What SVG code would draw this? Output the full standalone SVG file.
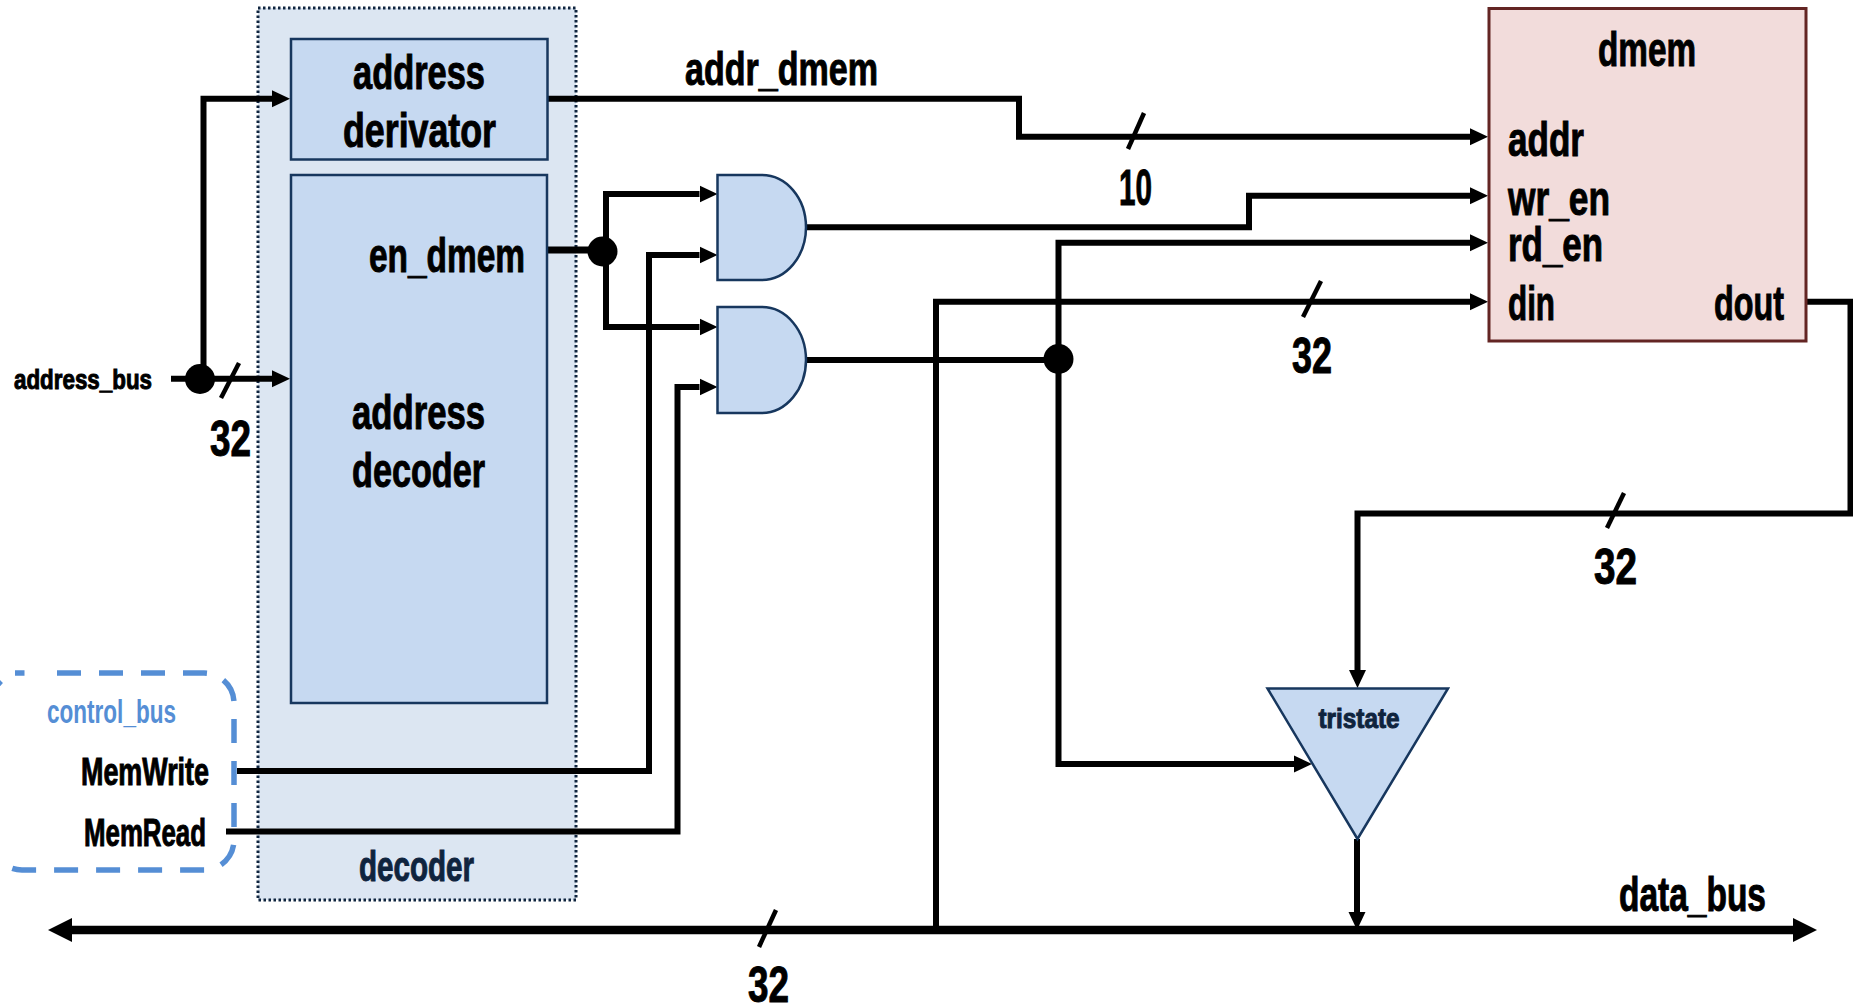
<svg xmlns="http://www.w3.org/2000/svg" width="1853" height="1006" viewBox="0 0 1853 1006">
<style>
text{font-family:"Liberation Sans Narrow","Liberation Sans",Arial,sans-serif;font-weight:700;fill:#000;stroke:#000;stroke-width:1}
.navy{fill:#0f243e;stroke:#0f243e}
.blue{fill:#558ed5;stroke:none}
.box{fill:#c6d9f1;stroke:#17375e;stroke-width:2.5}
.w{fill:none;stroke:#000;stroke-width:6;stroke-linejoin:miter}
.b{fill:none;stroke:#000;stroke-width:8.5}
.s{fill:none;stroke:#000;stroke-width:4.5}
</style>
<defs>
<marker id="a" markerUnits="userSpaceOnUse" markerWidth="18" markerHeight="18" refX="0" refY="9" orient="auto"><path d="M0 0.5L18 9L0 17.5Z" fill="#000"/></marker>
<marker id="big" markerUnits="userSpaceOnUse" markerWidth="24" markerHeight="24" refX="0" refY="12" orient="auto-start-reverse"><path d="M0 0L24 12L0 24Z" fill="#000"/></marker>
</defs>
<g id="decoder">
<rect x="258" y="8" width="318" height="892" fill="#dce6f2" stroke="#0f243e" stroke-width="3" stroke-dasharray="2.5 2.5"/>
<text class="navy" x="359" y="881" font-size="42" textLength="115" lengthAdjust="spacingAndGlyphs">decoder</text>
</g>
<g id="control_bus">
<path d="M57 673H204A30 30 0 0 1 234 703V840A30 30 0 0 1 204 870H22A30 30 0 0 1 -8 840V703A30 30 0 0 1 1 681M24.500 673H15" fill="none" stroke="#558ed5" stroke-width="5.5" stroke-dasharray="24 18"/>
<text class="blue" x="47" y="723" font-size="33" textLength="129" lengthAdjust="spacingAndGlyphs">control_bus</text>
<text x="81" y="785" font-size="38" textLength="128" lengthAdjust="spacingAndGlyphs">MemWrite</text>
<text x="84" y="846" font-size="38" textLength="122" lengthAdjust="spacingAndGlyphs">MemRead</text>
</g>
<g id="connectors">
<path class="w" d="M171 378.700H272" marker-end="url(#a)"/>
<path class="w" d="M203.500 379V98.700H272" marker-end="url(#a)"/>
<circle cx="200" cy="379" r="15"/>
<path class="s" d="M239 363L221 398"/>
<path class="w" d="M548 98.700H1019V136.700H1470" marker-end="url(#a)"/>
<path class="s" d="M1144 113L1128 149"/>
<path d="M548 250H603" fill="none" stroke="#000" stroke-width="7"/>
<path class="w" d="M606 251V194H699.500" marker-end="url(#a)"/>
<path class="w" d="M606 251V327H699.500" marker-end="url(#a)"/>
<circle cx="602.500" cy="251.500" r="15"/>
<path class="w" d="M237 771H649V255H699.500" marker-end="url(#a)"/>
<path class="w" d="M226 831.500H677.500V387H699.500" marker-end="url(#a)"/>
<path class="w" d="M806 227.300H1249V195.700H1470" marker-end="url(#a)"/>
<path class="w" d="M806 360H1059"/>
<path class="w" d="M1058.500 360V242.700H1470" marker-end="url(#a)"/>
<path class="w" d="M1058.500 360V764H1294" marker-end="url(#a)"/>
<circle cx="1058.500" cy="359" r="15"/>
<path class="w" d="M936 930V301.700H1470" marker-end="url(#a)"/>
<path class="s" d="M1321 281L1303 317"/>
<path class="w" d="M1806 301.700H1850.500V513.500H1357.500V670" marker-end="url(#a)"/>
<path class="s" d="M1624 493L1607 528"/>
<path class="w" d="M1357 839V912" marker-end="url(#a)"/>
<path class="b" d="M72 930H1793" marker-start="url(#big)" marker-end="url(#big)"/>
<path class="s" d="M776 910L759 947"/>
<text x="685" y="85" font-size="47" textLength="193" lengthAdjust="spacingAndGlyphs">addr_dmem</text>
<text x="1119" y="205" font-size="50" textLength="33" lengthAdjust="spacingAndGlyphs">10</text>
<text x="210" y="456" font-size="50" textLength="41" lengthAdjust="spacingAndGlyphs">32</text>
<text x="1292" y="373" font-size="50" textLength="40" lengthAdjust="spacingAndGlyphs">32</text>
<text x="1594" y="584" font-size="50" textLength="43" lengthAdjust="spacingAndGlyphs">32</text>
<text x="748" y="1002" font-size="50" textLength="41" lengthAdjust="spacingAndGlyphs">32</text>
<text x="14" y="389" font-size="27" textLength="138" lengthAdjust="spacingAndGlyphs">address_bus</text>
<text x="1619" y="911" font-size="48" textLength="147" lengthAdjust="spacingAndGlyphs">data_bus</text>
</g>
<g id="address_derivator">
<rect class="box" x="291" y="39" width="256.500" height="120.500" stroke="#1d2b3a"/>
<text x="353" y="89" font-size="48" textLength="132" lengthAdjust="spacingAndGlyphs">address</text>
<text x="343" y="147" font-size="48" textLength="153" lengthAdjust="spacingAndGlyphs">derivator</text>
</g>
<g id="address_decoder">
<rect class="box" x="291" y="175" width="256" height="528"/>
<text x="369" y="272" font-size="48" textLength="156" lengthAdjust="spacingAndGlyphs">en_dmem</text>
<text x="352" y="429" font-size="48" textLength="133" lengthAdjust="spacingAndGlyphs">address</text>
<text x="352" y="487" font-size="48" textLength="133" lengthAdjust="spacingAndGlyphs">decoder</text>
</g>
<g id="and_write"><path class="box" d="M717.500 175H762C786 175 806 198 806 227.300C806 256.500 786 280 762 280H717.500Z"/></g>
<g id="and_read"><path class="box" d="M717.500 307H762C786 307 806 330.500 806 360C806 389 786 413 762 413H717.500Z"/></g>
<g id="dmem">
<rect x="1489" y="8.500" width="317" height="332.500" fill="#f2dcdb" stroke="#632523" stroke-width="3"/>
<text x="1598" y="66" font-size="48" textLength="98" lengthAdjust="spacingAndGlyphs">dmem</text>
<text x="1508" y="156" font-size="48" textLength="76" lengthAdjust="spacingAndGlyphs">addr</text>
<text x="1508" y="215" font-size="48" textLength="102" lengthAdjust="spacingAndGlyphs">wr_en</text>
<text x="1508" y="261" font-size="48" textLength="95" lengthAdjust="spacingAndGlyphs">rd_en</text>
<text x="1508" y="320" font-size="48" textLength="47" lengthAdjust="spacingAndGlyphs">din</text>
<text x="1714" y="320" font-size="48" textLength="70" lengthAdjust="spacingAndGlyphs">dout</text>
</g>
<g id="tristate">
<path class="box" d="M1267.500 688.500H1448L1357.500 839Z"/>
<text class="navy" x="1318.500" y="728" font-size="27" textLength="81" lengthAdjust="spacingAndGlyphs">tristate</text>
</g>
</svg>
